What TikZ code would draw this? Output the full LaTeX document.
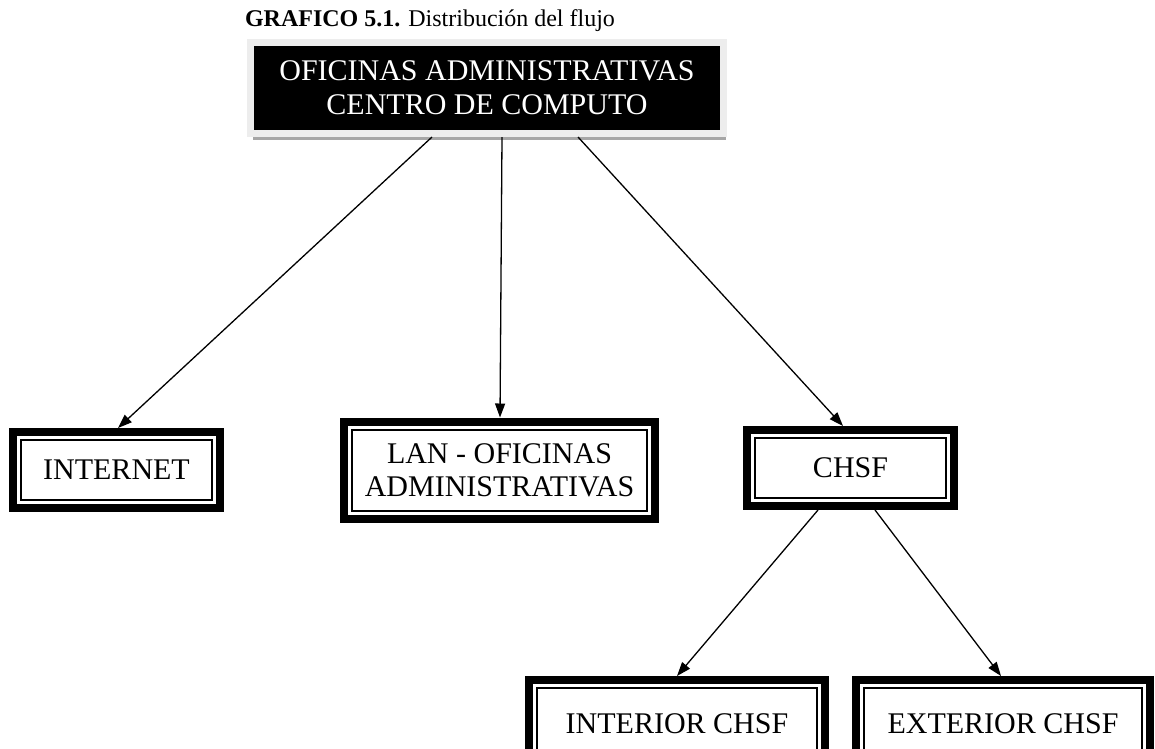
\documentclass[tikz,border=0pt]{standalone}
\usepackage{fontspec}
\setmainfont{Liberation Serif}
\usetikzlibrary{arrows.meta,shadows}

\begin{document}
\begin{tikzpicture}[x=1pt,y=-1pt,->,>={Triangle[length=14pt,width=10pt]},
      line width=1.3pt,
      box node/.style={draw,line width=8pt,align=center,
        font=\fontsize{30}{33}\selectfont,
        path picture={\draw[line width=2pt]
          ([shift={(8pt,-8pt)}]path picture bounding box.north west) rectangle
          ([shift={(-8pt,8pt)}]path picture bounding box.south east);}},
      head node/.style={fill=black,text=white,draw=black!7,line width=7pt,
        align=center,font=\fontsize{30}{34}\selectfont,
        minimum width=473pt,minimum height=91pt,
        drop shadow={shadow xshift=2pt,shadow yshift=-6pt,fill=black!35,opacity=1}}]
    \useasboundingbox (0,0) rectangle (1155,748);
    \node (title) at (430,21) {\fontsize{24}{26}\selectfont\textbf{GRAFICO 5.1.} Distribución del flujo};
    \node[head node] (head) at (487,88) {OFICINAS ADMINISTRATIVAS\\CENTRO DE COMPUTO};
    \node[box node,minimum width=207pt,minimum height=76pt] (internet) at (116.5,470) {INTERNET};
    \node[box node,minimum width=311pt,minimum height=97pt] (lan) at (499.5,470) {LAN - OFICINAS\\ADMINISTRATIVAS};
    \node[box node,minimum width=207pt,minimum height=76pt] (chsf) at (850.5,468) {CHSF};
    \node[box node,minimum width=296pt,minimum height=87pt] (interior) at (677,723.5) {INTERIOR CHSF};
    \node[box node,minimum width=294pt,minimum height=87pt] (exterior) at (1003,723.5) {EXTERIOR CHSF};
    \draw ([xshift=-55pt]head.south) -- ([xshift=1.5pt]internet.north);
    \draw ([xshift=15pt]head.south) -- ([xshift=0.5pt]lan.north);
    \draw ([xshift=91pt]head.south) -- ([xshift=-7.5pt]chsf.north);
    \draw ([xshift=-32.5pt]chsf.south) -- (interior.north);
    \draw ([xshift=24.5pt]chsf.south) -- ([xshift=-2pt]exterior.north);
  \end{tikzpicture}
\end{document}
